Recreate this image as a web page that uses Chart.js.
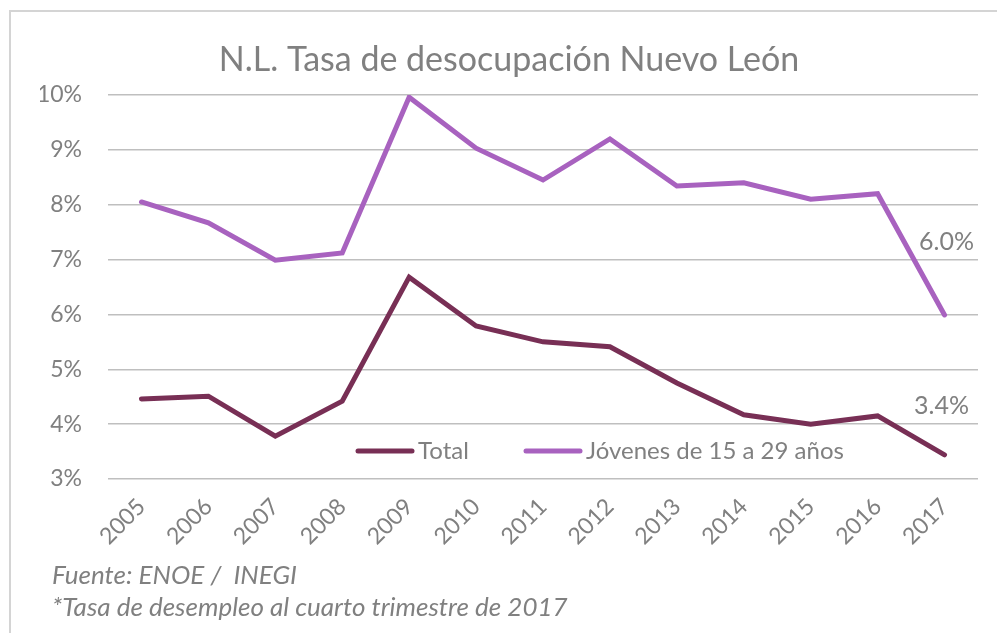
<!DOCTYPE html>
<html>
<head>
<meta charset="utf-8">
<script src="https://cdn.jsdelivr.net/npm/chart.js@4.4.1/dist/chart.umd.min.js"></script>
<style>
  body { margin: 0; background: #fff; }
  #frame { position: absolute; left: 9px; top: 10px; width: 1000px; height: 640px; border: 2px solid #d4d4d4; }
  #wrap { position: absolute; left: 0; top: 0; width: 997px; height: 633px; }
</style>
</head>
<body>
<div id="frame"></div>
<div id="wrap"><canvas id="myChart" width="997" height="633"></canvas></div>
<script>
// datos
const years = ['2005', '2006', '2007', '2008', '2009', '2010', '2011', '2012', '2013', '2014', '2015', '2016', '2017'];
const total = [4.46, 4.51, 3.78, 4.42, 6.68, 5.79, 5.50, 5.41, 4.75, 4.17, 4.00, 4.15, 3.44];
const jovenes = [8.05, 7.67, 6.99, 7.12, 9.96, 9.03, 8.45, 9.20, 8.34, 8.40, 8.10, 8.20, 5.99];
const lastLabels = ['3.4%', '6.0%'];
const footer = ['Fuente: ENOE /  INEGI', '*Tasa de desempleo al cuarto trimestre de 2017'];

const FONT = 'Lato, "Open Sans", sans-serif';
const GRAY = '#808080';

// leyenda dentro del area de la grafica
const legendInside = {
    id: 'legendInside',
    afterDraw(chart) {
        const ctx = chart.ctx;
        const y = 451;
        const items = [{ x: 358 }, { x: 526 }];
        ctx.save();
        ctx.font = '24px ' + FONT;
        ctx.textBaseline = 'middle';
        chart.data.datasets.forEach((ds, i) => {
            const x = items[i].x;
            ctx.strokeStyle = ds.borderColor;
            ctx.lineWidth = 5;
            ctx.lineCap = 'round';
            ctx.beginPath();
            ctx.moveTo(x, y);
            ctx.lineTo(x + 54, y);
            ctx.stroke();
            ctx.fillStyle = GRAY;
            ctx.fillText(ds.label, x + 60, y);
        });
        ctx.restore();
    }
};

// etiquetas del ultimo punto y nota al pie
const extras = {
    id: 'extras',
    afterDraw(chart) {
        const ctx = chart.ctx;
        ctx.save();
        ctx.font = '25px ' + FONT;
        ctx.fillStyle = GRAY;
        ctx.textAlign = 'center';
        ctx.textBaseline = 'middle';
        const offsets = [[-3, -49], [2, -73]];
        chart.data.datasets.forEach((ds, i) => {
            const meta = chart.getDatasetMeta(i);
            const pt = meta.data[meta.data.length - 1];
            ctx.fillText(lastLabels[i], pt.x + offsets[i][0], pt.y + offsets[i][1]);
        });
        ctx.font = 'italic 26px ' + FONT;
        ctx.textAlign = 'left';
        ctx.textBaseline = 'alphabetic';
        ctx.fillText(footer[0], 52, 584);
        ctx.fillText(footer[1], 52, 616);
        ctx.restore();
    }
};

const ctxLine = document.getElementById('myChart').getContext('2d');
const lineChart = new Chart(ctxLine, {
    type: 'line',
    data: {
        labels: years,
        datasets: [{
            label: 'Total',
            data: total,
            borderColor: '#782f55',
            borderWidth: 5,
            pointRadius: 0,
            fill: false,
            tension: 0,
            borderCapStyle: 'round'
        }, {
            label: 'Jóvenes de 15 a 29 años',
            data: jovenes,
            borderColor: '#a862bf',
            borderWidth: 5,
            pointRadius: 0,
            fill: false,
            tension: 0,
            borderCapStyle: 'round'
        }]
    },
    options: {
        responsive: false,
        animation: false,
        layout: { padding: { left: 40, right: 19, top: 0, bottom: 70 } },
        plugins: {
            legend: { display: false },
            tooltip: { enabled: false },
            title: {
                display: true,
                text: 'N.L. Tasa de desocupación Nuevo León',
                font: { family: FONT, size: 34, weight: 'normal' },
                color: GRAY,
                padding: { top: 40, bottom: 14.2 }
            }
        },
        scales: {
            x: {
                offset: true,
                grid: { display: false, drawTicks: false },
                border: { display: false },
                ticks: {
                    color: GRAY,
                    font: { family: FONT, size: 23 },
                    maxRotation: 45,
                    minRotation: 45,
                    padding: 14
                },
                afterFit: s => { s.height = 84; }
            },
            y: {
                min: 3,
                max: 10,
                grid: { color: '#bfbfbf', lineWidth: 1.5, drawTicks: false },
                border: { display: false },
                ticks: {
                    stepSize: 1,
                    color: GRAY,
                    font: { family: FONT, size: 23 },
                    padding: 26,
                    callback: v => v + '%'
                },
                afterFit: s => { s.width = 68; }
            }
        }
    },
    plugins: [legendInside, extras]
});
</script>
</body>
</html>
